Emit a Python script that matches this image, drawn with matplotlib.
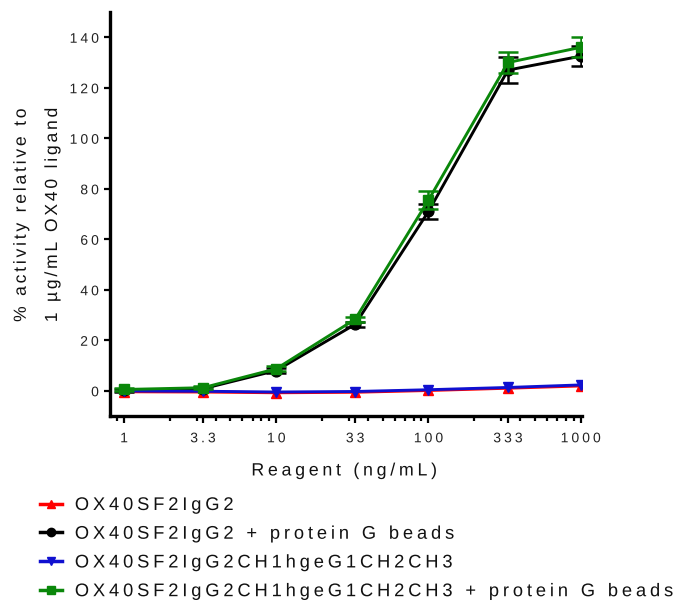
import numpy as np
import matplotlib
matplotlib.use("Agg")
import matplotlib.pyplot as plt
from matplotlib import patheffects as pe
from matplotlib.textpath import TextPath
from matplotlib.path import Path
from matplotlib.ticker import FixedLocator, LogLocator, NullFormatter

# ---------------- data ----------------
conc = [1, 3.3, 10, 33, 100, 333, 1000]
tick_labels = ["1", "3.3", "10", "33", "100", "333", "1000"]

igg2 = [-0.4, -0.5, -0.8, -0.6, 0.1, 1.0, 1.9]
igg2_beads = [0.2, 0.8, 8.0, 26.3, 71.0, 127.0, 132.5]
igg2_beads_err = [0.5, 0.5, 1.0, 1.0, 3.0, 5.0, 4.0]
chimera = [-0.1, -0.2, -0.5, -0.3, 0.4, 1.3, 2.3]
chimera_beads = [0.5, 1.2, 8.7, 28.3, 75.5, 130.0, 136.0]
chimera_beads_err = [0.5, 0.5, 1.0, 1.0, 3.5, 4.0, 4.0]

series_names = [
    "OX40SF2IgG2",
    "OX40SF2IgG2 + protein G beads",
    "OX40SF2IgG2CH1hgeG1CH2CH3",
    "OX40SF2IgG2CH1hgeG1CH2CH3 + protein G beads",
]
y_ticks = [0, 20, 40, 60, 80, 100, 120, 140]
xlabel = "Reagent (ng/mL)"
ylabel = "% activity relative to\n1 \u00b5g/mL OX40 ligand"

RED, BLACK, BLUE, GREEN = "#ff0000", "#000000", "#1010d0", "#0a870a"

FONT = "Liberation Sans"
plt.rcParams["font.family"] = [FONT, "DejaVu Sans"]


def _glyph_vertex_count(ch, prop):
    if ch.isspace():
        return 0
    try:
        return len(TextPath((0, 0), ch, size=10, prop=prop).vertices)
    except Exception:
        return 0


class LetterSpacing(pe.AbstractPathEffect):
    """Adds tracking (extra space between glyphs) to a text artist."""

    def __init__(self, text_artist, em=0.2, align=0.0):
        super().__init__()
        self.t = text_artist
        self.em = em
        self.align = align

    def draw_path(self, renderer, gc, tpath, affine, rgbFace=None):
        prop = self.t.get_fontproperties()
        verts = tpath.vertices
        n = len(verts)
        line, counts = None, None
        for cand in self.t.get_text().split("\n"):
            c = [_glyph_vertex_count(ch, prop) for ch in cand]
            if sum(c) == n:
                line, counts = cand, c
                break
        if line is None or len(line) < 2:
            renderer.draw_path(gc, tpath, affine, rgbFace)
            return
        sp = self.em * 100.0
        shifts = np.repeat(np.arange(len(line)) * sp, counts).astype(float)
        total = sp * (len(line) - 1)
        new = np.array(verts, dtype=float).copy()
        new[:, 0] += shifts - self.align * total
        renderer.draw_path(gc, Path(new, tpath.codes), affine, rgbFace)


fig = plt.figure(figsize=(6.81, 6.01), dpi=100)
ax = fig.add_axes([110 / 681, 1 - 416 / 601, 472 / 681, 404 / 601])

lw = 2.1
ms = 7.8
# red
ax.plot(conc, igg2, color=RED, lw=lw, marker="^", ms=ms, zorder=3)
# black
ax.errorbar(conc, igg2_beads, yerr=igg2_beads_err, fmt="none", ecolor=BLACK,
            elinewidth=1.8, capsize=7, capthick=1.8, zorder=4)
ax.plot(conc, igg2_beads, color=BLACK, lw=lw, marker="o", ms=ms, zorder=4)
# blue
ax.plot(conc, chimera, color=BLUE, lw=lw, marker="v", ms=ms, zorder=5)
# green
ax.errorbar(conc, chimera_beads, yerr=chimera_beads_err, fmt="none", ecolor=GREEN,
            elinewidth=1.8, capsize=7, capthick=1.8, zorder=6)
ax.plot(conc, chimera_beads, color=GREEN, lw=lw, marker="s", ms=ms, zorder=6)

ax.set_xscale("log")
ax.set_xlim(0.809, 1020)
ax.set_ylim(-10, 150)

ax.xaxis.set_major_locator(FixedLocator(conc))
ax.set_xticklabels(tick_labels)
ax.xaxis.set_minor_locator(LogLocator(base=10, subs=np.arange(2, 10)))
ax.xaxis.set_minor_formatter(NullFormatter())
ax.set_yticks(y_ticks)

for side in ("top", "right"):
    ax.spines[side].set_visible(False)
for side in ("left", "bottom"):
    ax.spines[side].set_linewidth(2.4)

ax.tick_params(axis="both", which="major", direction="out", width=1.6,
               labelsize=10, colors="black", labelcolor="#222222")
ax.tick_params(axis="x", which="major", length=5, pad=6)
ax.tick_params(axis="x", which="minor", length=3.5, width=1.6)
ax.tick_params(axis="y", which="major", length=4, pad=4)

ax.set_xlabel(xlabel, fontsize=12.8, color="#111111")
ax.xaxis.set_label_coords(0.496, -0.115)
ax.set_ylabel(ylabel, fontsize=12.6, color="#111111", linespacing=2.35)
ax.yaxis.set_label_coords(-0.106, 0.497)

for lab in ax.get_xticklabels():
    lab.set_path_effects([LetterSpacing(lab, 0.22, 0.5)])
for lab in ax.get_yticklabels():
    lab.set_path_effects([LetterSpacing(lab, 0.22, 1.0)])
ax.xaxis.label.set_path_effects([LetterSpacing(ax.xaxis.label, 0.21, 0.5)])
ax.yaxis.label.set_path_effects([LetterSpacing(ax.yaxis.label, 0.16, 0.5)])

# legend
handles = [
    plt.Line2D([], [], color=RED, lw=2.5, marker="^", ms=6),
    plt.Line2D([], [], color=BLACK, lw=2.5, marker="o", ms=6),
    plt.Line2D([], [], color=BLUE, lw=2.5, marker="v", ms=6),
    plt.Line2D([], [], color=GREEN, lw=2.5, marker="s", ms=6),
]
leg = fig.legend(handles, series_names, loc="upper left",
                 bbox_to_anchor=(40 / 681, 1 - 497 / 601), frameon=False,
                 fontsize=13.2, handlelength=1.2, handletextpad=0.7,
                 labelspacing=0.64, borderpad=0, borderaxespad=0)
for t in leg.get_texts():
    t.set_color("#111111")
    t.set_path_effects([LetterSpacing(t, 0.21, 0.0)])

fig.savefig("out.png", dpi=100)
